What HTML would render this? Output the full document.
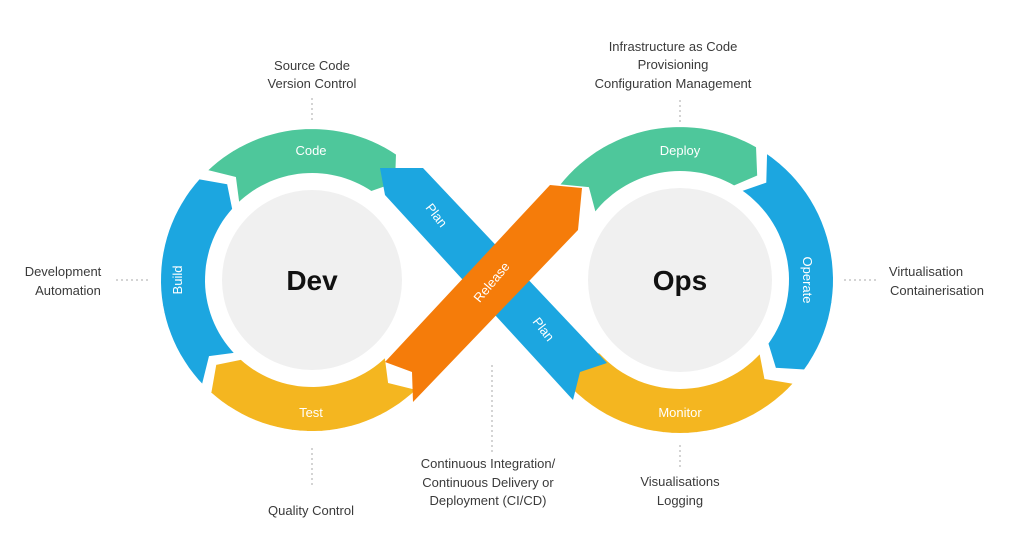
<!DOCTYPE html>
<html><head><meta charset="utf-8"><style>
html,body{margin:0;padding:0;background:#fff;}
svg{display:block;}
text{font-family:"Liberation Sans",sans-serif;}
.lb{font-size:13px;fill:#3a3a3a;text-anchor:middle;}
.w{font-size:13px;fill:#fff;text-anchor:middle;}
</style></head><body>
<svg id="s" width="1024" height="535" viewBox="0 0 1024 535" xmlns="http://www.w3.org/2000/svg">
<g stroke="#aaa" stroke-width="1" stroke-dasharray="2,3">
<line x1="312" y1="98" x2="312" y2="120"/>
<line x1="312" y1="448" x2="312" y2="485"/>
<line x1="492" y1="365" x2="492" y2="452"/>
<line x1="680" y1="100" x2="680" y2="126"/>
<line x1="680" y1="445" x2="680" y2="468"/>
<line x1="116" y1="280" x2="148" y2="280"/>
<line x1="844" y1="280" x2="876" y2="280"/>
</g>
<circle cx="312" cy="280" r="90" fill="#f0f0f0"/>
<circle cx="680" cy="280" r="92" fill="#f0f0f0"/>
<g id="arcs"></g>
<polygon points="380,168 423,168 607,363 580,372 573,400 385,195" fill="#1ca6e0"/>
<polygon points="385,362 412,372 413,402 578,230 582,188 550,185" fill="#f57c0a"/>
<text x="312" y="290" font-size="28" font-weight="bold" text-anchor="middle" fill="#111">Dev</text>
<text x="680" y="290" font-size="28" font-weight="bold" text-anchor="middle" fill="#111">Ops</text>
<text class="w" x="311" y="155">Code</text>
<text class="w" x="311" y="417">Test</text>
<text class="w" transform="translate(182,280) rotate(-90)">Build</text>
<text class="w" x="680" y="155">Deploy</text>
<text class="w" x="680" y="417">Monitor</text>
<text class="w" transform="translate(803,280) rotate(90)">Operate</text>
<text class="w" transform="translate(433,218) rotate(52)">Plan</text>
<text class="w" transform="translate(540,332) rotate(52)">Plan</text>
<text class="w" transform="translate(495,285) rotate(-50)">Release</text>
<text class="lb" x="312" y="70">Source Code</text>
<text class="lb" x="312" y="88">Version Control</text>
<text class="lb" x="673" y="51">Infrastructure as Code</text>
<text class="lb" x="673" y="69">Provisioning</text>
<text class="lb" x="673" y="88">Configuration Management</text>
<text class="lb" x="63" y="276">Development</text>
<text class="lb" x="68" y="295">Automation</text>
<text class="lb" x="926" y="276">Virtualisation</text>
<text class="lb" x="937" y="295">Containerisation</text>
<text class="lb" x="311" y="515">Quality Control</text>
<text class="lb" x="488" y="468">Continuous Integration/</text>
<text class="lb" x="488" y="487">Continuous Delivery or</text>
<text class="lb" x="488" y="505">Deployment (CI/CD)</text>
<text class="lb" x="680" y="486">Visualisations</text>
<text class="lb" x="680" y="505">Logging</text>
</svg>
<script>
(function(){
var g=document.getElementById('arcs'),ns='http://www.w3.org/2000/svg';
function P(cx,cy,r,a){a=a*Math.PI/180;return (cx+r*Math.cos(a)).toFixed(1)+','+(cy+r*Math.sin(a)).toFixed(1);}
function seg(cx,cy,ri,ro,a0,a1,col){
 var rm=(ri+ro)/2,t=7,pts=[];
 var n=30;
 for(var i=0;i<=n;i++)pts.push(P(cx,cy,ro+4,a0+(a1-a0)*i/n));
 pts.push(P(cx,cy,rm,a1+t));
 for(var i=n;i>=0;i--)pts.push(P(cx,cy,ri-2,a0+(a1-a0)*i/n));
 pts.push(P(cx,cy,rm,a0+t));
 var p=document.createElementNS(ns,'polygon');
 p.setAttribute('points',pts.join(' '));p.setAttribute('fill',col);
 p.setAttribute('stroke','#fff');p.setAttribute('stroke-width','2');
 g.appendChild(p);
}
var G='#4ec79b',B='#1ca6e0',Y='#f4b620';
seg(312,280,108,148,46,132,Y);
seg(312,280,108,148,136,222,B);
seg(312,280,108,148,226,304,G);
seg(680,280,110,150,218,300,G);
seg(680,280,110,150,304,396,B);
seg(680,280,110,150,42,138,Y);
})();
</script>
</body></html>
